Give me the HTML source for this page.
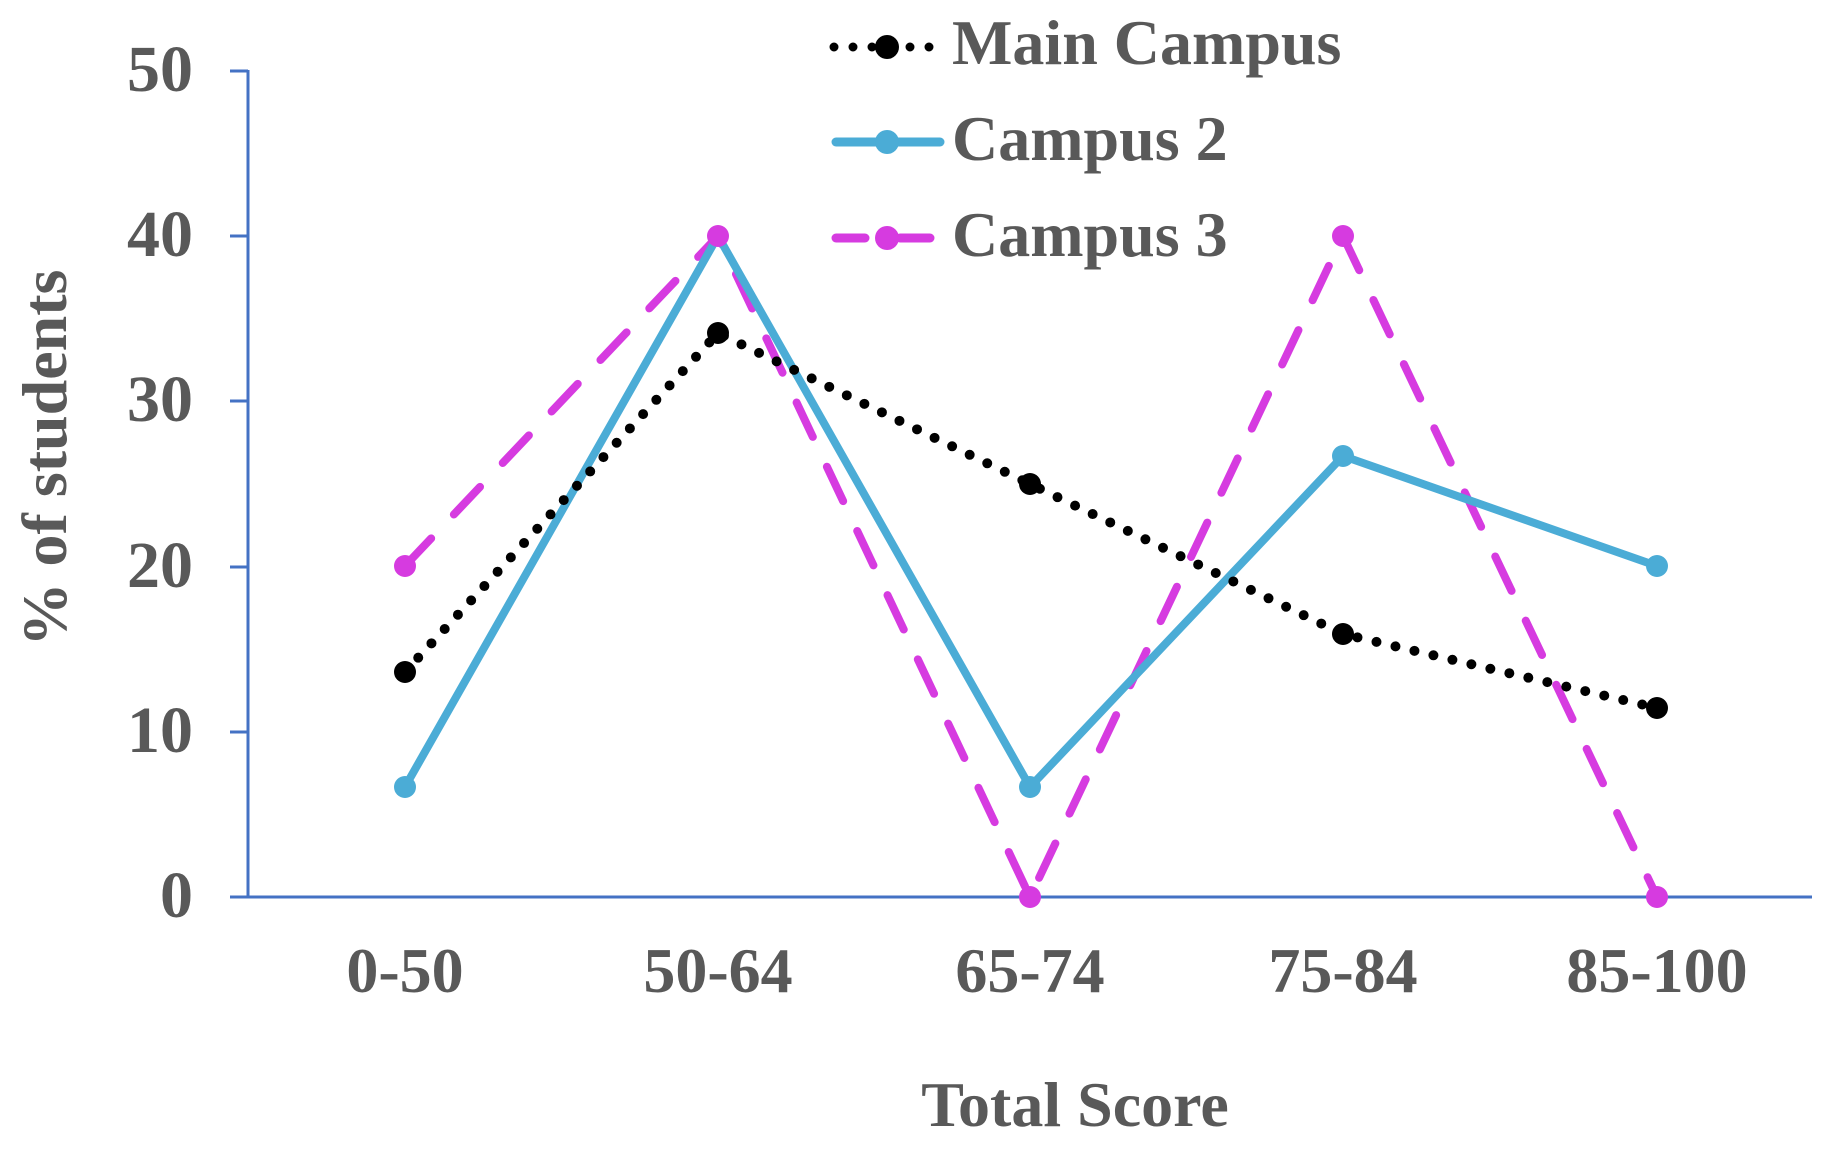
<!DOCTYPE html>
<html><head><meta charset="utf-8"><style>
html,body{margin:0;padding:0;background:#fff}
svg{display:block}
text{font-family:"Liberation Serif",serif;font-weight:bold;fill:#595959}
</style></head><body>
<svg width="1830" height="1149" viewBox="0 0 1830 1149">
<g stroke="#4472C4" stroke-width="3" fill="none">
<line x1="248" y1="70" x2="248" y2="897"/>
<line x1="230" y1="897" x2="1812" y2="897"/>
<line x1="230" y1="71" x2="248" y2="71"/>
<line x1="230" y1="236" x2="248" y2="236"/>
<line x1="230" y1="401" x2="248" y2="401"/>
<line x1="230" y1="567" x2="248" y2="567"/>
<line x1="230" y1="732" x2="248" y2="732"/>
</g>
<g font-size="66" text-anchor="end">
<text x="193" y="91">50</text>
<text x="193" y="256">40</text>
<text x="193" y="421">30</text>
<text x="193" y="587">20</text>
<text x="193" y="752">10</text>
<text x="193" y="917">0</text>
</g>
<g font-size="64" text-anchor="middle">
<text x="405" y="992">0-50</text>
<text x="718" y="992">50-64</text>
<text x="1030" y="992">65-74</text>
<text x="1343" y="992">75-84</text>
<text x="1657" y="992">85-100</text>
<text x="1075" y="1126">Total Score</text>
</g>
<text font-size="64" text-anchor="middle" transform="translate(66,458) rotate(-90)">% of students</text>
<polyline points="405,566 718,236 1030,897 1343,236 1657,897" fill="none" stroke="#D63BE0" stroke-width="8" stroke-dasharray="38 33" stroke-linecap="round"/>
<polyline points="405,787 718,236 1030,787 1343,456 1657,566" fill="none" stroke="#4BACD6" stroke-width="8"/>
<polyline points="405,672 718,333 1030,484 1343,634 1657,708" fill="none" stroke="#000" stroke-width="10" stroke-dasharray="0 19.5" stroke-linecap="round"/>
<g fill="#D63BE0"><circle cx="405" cy="566" r="11"/><circle cx="718" cy="236" r="11"/><circle cx="1030" cy="897" r="11"/><circle cx="1343" cy="236" r="11"/><circle cx="1657" cy="897" r="11"/></g>
<g fill="#4BACD6"><circle cx="405" cy="787" r="11"/><circle cx="1030" cy="787" r="11"/><circle cx="1343" cy="456" r="11"/><circle cx="1657" cy="566" r="11"/></g>
<g fill="#000"><circle cx="405" cy="672" r="11"/><circle cx="718" cy="333" r="11"/><circle cx="1030" cy="484" r="11"/><circle cx="1343" cy="634" r="11"/><circle cx="1657" cy="708" r="11"/></g>
<line x1="834" y1="47" x2="940" y2="47" stroke="#000" stroke-width="9" stroke-dasharray="0 19" stroke-linecap="round"/>
<circle cx="887" cy="47" r="12" fill="#000"/>
<line x1="836" y1="142" x2="940" y2="142" stroke="#4BACD6" stroke-width="9" stroke-linecap="round"/>
<circle cx="887" cy="142" r="12" fill="#4BACD6"/>
<line x1="836" y1="238" x2="865" y2="238" stroke="#D63BE0" stroke-width="9" stroke-linecap="round"/>
<line x1="900" y1="238" x2="930" y2="238" stroke="#D63BE0" stroke-width="9" stroke-linecap="round"/>
<circle cx="887" cy="238" r="12" fill="#D63BE0"/>
<g font-size="64">
<text x="952" y="64">Main Campus</text>
<text x="952" y="160">Campus 2</text>
<text x="952" y="256">Campus 3</text>
</g>
</svg>
</body></html>
